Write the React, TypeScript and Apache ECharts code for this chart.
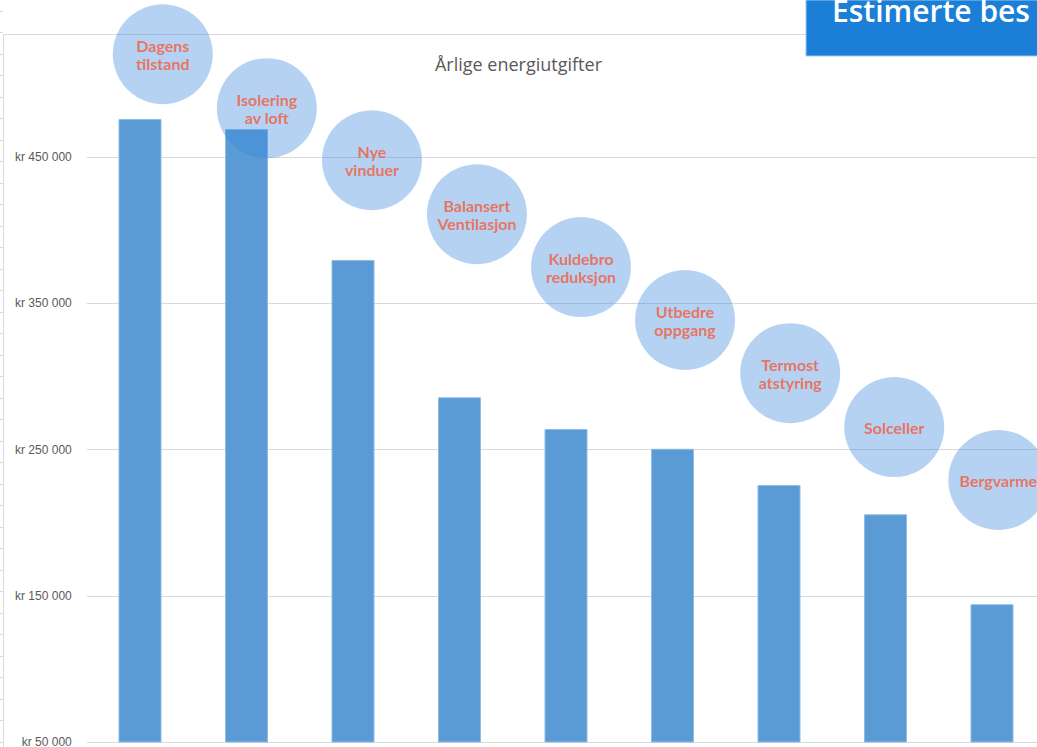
import React, { useEffect, useRef } from "react";
import * as echarts from "echarts";

const categories = [
  "Dagens tilstand",
  "Isolering av loft",
  "Nye vinduer",
  "Balansert Ventilasjon",
  "Kuldebro reduksjon",
  "Utbedre oppgang",
  "Termostatstyring",
  "Solceller",
  "Bergvarme",
];
const costs = [476000, 469100, 379600, 285700, 264000, 250500, 225700, 205700, 144200];

const bubbleLabels = [
  "Dagens\ntilstand",
  "Isolering\nav loft",
  "Nye\nvinduer",
  "Balansert\nVentilasjon",
  "Kuldebro\nreduksjon",
  "Utbedre\noppgang",
  "Termost\natstyring",
  "Solceller",
  "Bergvarme",
];
const bubbleX = [0.714, 1.691, 2.678, 3.664, 4.641, 5.618, 6.605, 7.582, 8.559];
const bubbleY = [520300, 483400, 447800, 410900, 374700, 338500, 302200, 265300, 229100];

const yTickLabels = [50000, 150000, 250000, 350000, 450000];
const chartTitle = "Årlige energiutgifter";
const heading = "Estimerte bes";

const fmtKr = (v: number) =>
  "kr " + String(Math.round(v)).replace(/\B(?=(\d{3})+(?!\d))/g, " ");

export default function App() {
  const ref = useRef<HTMLDivElement>(null);
  useEffect(() => {
    if (!ref.current) return;
    const chart = echarts.init(ref.current, undefined, { renderer: "svg" });
    const gridTop = 10.75;
    const gridLeft = 86.75;
    const gridW = 958.5;
    const gridH = 731.25;
    chart.setOption({
      animation: false,
      backgroundColor: "#ffffff",
      title: {
        text: chartTitle,
        left: "center",
        top: 50,
        textStyle: {
          fontFamily: "Open Sans",
          fontSize: 18,
          fontWeight: "normal",
          color: "#595959",
        },
      },
      grid: {
        left: gridLeft,
        top: gridTop,
        width: gridW,
        height: gridH,
        containLabel: false,
        outerBoundsMode: "none",
      },
      xAxis: [
        {
          type: "category",
          data: categories,
          axisLine: { show: false },
          axisTick: { show: false },
          axisLabel: { show: false },
          splitLine: { show: false },
        },
        {
          type: "value",
          min: 0,
          max: 9,
          show: false,
        },
      ],
      yAxis: [
        {
          type: "value",
          min: 50000,
          max: 550000,
          interval: 50000,
          axisLine: { show: false },
          axisTick: { show: false },
          axisLabel: {
            margin: 15,
            showMaxLabel: false,
            fontFamily: "Liberation Sans",
            fontSize: 12,
            color: "#595959",
            formatter: (v: number) => (yTickLabels.includes(v) ? fmtKr(v) : ""),
          },
          splitLine: {
            show: true,
            showMaxLine: false,
            lineStyle: { color: ["#d9d9d9", "rgba(0,0,0,0)"], width: 1 },
          },
        },
        {
          type: "value",
          min: 0,
          max: 34,
          interval: 1,
          position: "left",
          offset: 84,
          axisLine: { show: false },
          axisTick: { show: true, length: 3, lineStyle: { color: "#d9d9d9" } },
          axisLabel: { show: false },
          splitLine: { show: false },
        },
      ],
      graphic: [
        {
          type: "polyline",
          shape: { points: [[3.5, 747], [3.5, 34.5], [806, 34.5]] },
          style: { stroke: "#d9d9d9", lineWidth: 1, fill: null },
          silent: true,
        },
        {
          type: "rect",
          shape: { x: 806, y: 0, width: 240, height: 56 },
          style: { fill: "#1b7fd8", stroke: "#9cc8f0", lineWidth: 1 },
          silent: true,
        },
        {
          type: "text",
          x: 832,
          y: 25,
          style: {
            text: heading,
            fill: "#ffffff",
            fontFamily: "Open Sans",
            fontWeight: 600,
            fontSize: 30,
            verticalAlign: "bottom",
            align: "left",
          },
          silent: true,
        },
      ],
      series: [
        {
          type: "bar",
          xAxisIndex: 0,
          yAxisIndex: 0,
          data: costs,
          barWidth: 43,
          itemStyle: { color: "#5b9bd5", borderColor: "#8fbbe4", borderWidth: 1 },
          z: 2,
        },
        {
          type: "scatter",
          xAxisIndex: 1,
          yAxisIndex: 0,
          symbol: "circle",
          symbolSize: 100,
          data: bubbleX.map((x, i) => ({ value: [x, bubbleY[i]], name: bubbleLabels[i] })),
          itemStyle: { color: "rgba(55,132,222,0.46)" },
          label: {
            show: true,
            position: "inside",
            formatter: (p: any) => p.name,
            fontFamily: "Lato",
            fontWeight: "bold",
            fontSize: 16,
            lineHeight: 18,
            color: "#f45c3a",
          },
          emphasis: { disabled: true },
          z: 5,
        },
      ],
    });
    return () => chart.dispose();
  }, []);
  return (
    <div
      ref={ref}
      style={{ position: "absolute", left: 0, top: 0, width: 1037, height: 747, overflow: "hidden" }}
    />
  );
}
